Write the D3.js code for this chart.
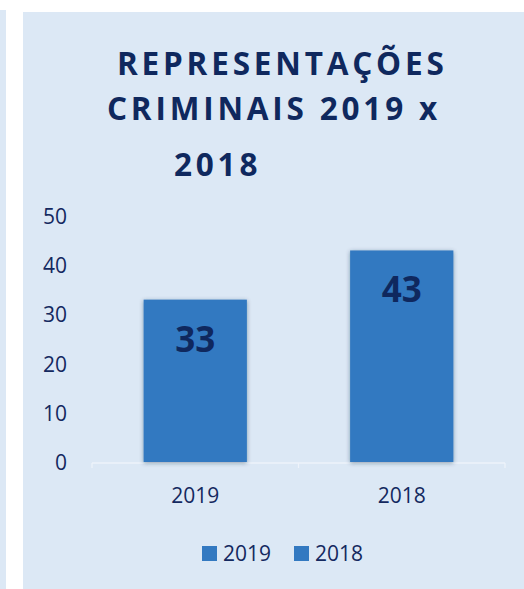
<!DOCTYPE html>
<html><head><meta charset="utf-8">
<script src="https://cdn.jsdelivr.net/npm/d3@7"></script>
<style>
html,body{margin:0;padding:0;background:#fff;overflow:hidden;}
svg{display:block;}
text{font-family:"Open Sans",Lato,sans-serif;}
</style></head>
<body>
<script>
const categories = ["2019", "2018"];
const values = [33, 43];
const yTicks = [0, 10, 20, 30, 40, 50];
const titleLines = ["REPRESENTAÇÕES", "CRIMINAIS 2019 x", "2018"];
const legendLabels = ["2019", "2018"];

const W = 524, H = 589;
const svg = d3.select("body").append("svg").attr("width", W).attr("height", H);

const defs = svg.append("defs");
const f = defs.append("filter").attr("id","sh").attr("x","-20%").attr("y","-20%").attr("width","140%").attr("height","140%");
f.append("feDropShadow").attr("dx",0).attr("dy",1).attr("stdDeviation",2.2).attr("flood-color","#1a3350").attr("flood-opacity",0.45);

const bg = "#DCE8F5";
svg.append("rect").attr("x",0).attr("y",10).attr("width",6).attr("height",H-10).attr("fill",bg);
svg.append("rect").attr("x",23).attr("y",12).attr("width",W-23).attr("height",H-12).attr("fill",bg);

// title
const titleX = [117, 107, 174], titleY = [75, 120, 176];
svg.selectAll("text.title").data(titleLines).join("text")
  .attr("class","title")
  .attr("x",(d,i)=>titleX[i]).attr("y",(d,i)=>titleY[i])
  .attr("font-size",31.5).attr("font-weight",700).attr("letter-spacing",3.8)
  .attr("fill","#0F285E").text(d=>d);

const x = d3.scaleBand().domain(categories).range([92,505]).paddingInner(0.5).paddingOuter(0.25);
const y = d3.scaleLinear().domain([0,50]).range([462,216]);

// baseline
svg.append("line").attr("x1",92).attr("x2",505).attr("y1",y(0)+1).attr("y2",y(0)+1)
  .attr("stroke","#EEF3FA").attr("stroke-width",1.5);
[92, 298.5, 505].forEach(t=>{
  svg.append("line").attr("x1",t).attr("x2",t).attr("y1",y(0)+1).attr("y2",y(0)+6)
    .attr("stroke","#EEF3FA").attr("stroke-width",1.2);
});

// y axis labels
svg.selectAll("text.ytick").data(yTicks).join("text")
  .attr("class","ytick").attr("x",67).attr("y",d=>y(d)+8)
  .attr("text-anchor","end").attr("font-size",21).attr("fill","#14295F").text(d=>d);

// bars
svg.selectAll("rect.bar").data(values).join("rect")
  .attr("class","bar")
  .attr("x",(d,i)=>x(categories[i])).attr("width",x.bandwidth())
  .attr("y",d=>y(d)).attr("height",d=>y(0)-y(d))
  .attr("fill","#3379C1").attr("filter","url(#sh)");

// value labels
svg.selectAll("text.val").data(values).join("text")
  .attr("class","val")
  .attr("x",(d,i)=>x(categories[i])+x.bandwidth()/2).attr("y",d=>y(d)+52)
  .attr("text-anchor","middle").attr("font-size",35).attr("font-weight",700)
  .attr("fill","#0F285E").text(d=>d);

// category labels
svg.selectAll("text.cat").data(categories).join("text")
  .attr("class","cat")
  .attr("x",d=>x(d)+x.bandwidth()/2).attr("y",503)
  .attr("text-anchor","middle").attr("font-size",21).attr("fill","#14295F").text(d=>d);

// legend
const legX = [202, 294];
const lg = svg.selectAll("g.leg").data(legendLabels).join("g").attr("class","leg")
  .attr("transform",(d,i)=>`translate(${legX[i]},546)`);
lg.append("rect").attr("width",15).attr("height",15).attr("fill","#3379C1");
lg.append("text").attr("x",21).attr("y",15).attr("font-size",21).attr("fill","#14295F").text(d=>d);
</script>
</body></html>
